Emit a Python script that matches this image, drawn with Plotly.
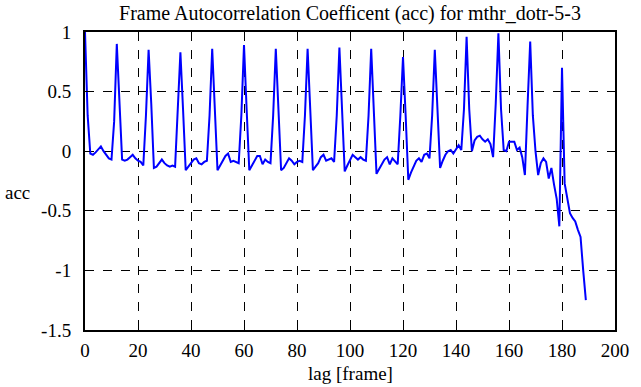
import plotly.graph_objects as go

lags = list(range(0, 190))
acc = [
    1.0, 0.3, -0.02, -0.03, -0.01, 0.02, 0.04, 0.0, -0.03, -0.06,   # 0-9
    -0.07, 0.25, 0.9, 0.4, -0.07, -0.08, -0.07, -0.05, -0.03, -0.06,  # 10-19
    -0.08, -0.09, -0.12, 0.3, 0.85, 0.4, -0.14, -0.13, -0.1, -0.07,   # 20-29
    -0.1, -0.12, -0.13, -0.12, -0.13, 0.3, 0.83, 0.35, -0.16, -0.13,  # 30-39
    -0.1, -0.07, -0.06, -0.1, -0.11, -0.09, -0.08, 0.3, 0.86, 0.35,   # 40-49
    -0.16, -0.12, -0.08, -0.04, -0.02, -0.09, -0.08, -0.09, -0.1, 0.3,  # 50-59
    0.89, 0.35, -0.16, -0.12, -0.08, -0.04, -0.04, -0.11, -0.07, -0.09,  # 60-69
    -0.1, 0.3, 0.86, 0.35, -0.16, -0.14, -0.1, -0.06, -0.08, -0.11,   # 70-79
    -0.09, -0.08, -0.09, 0.3, 0.86, 0.35, -0.16, -0.13, -0.1, -0.05,  # 80-89
    -0.03, -0.08, -0.07, -0.06, -0.09, 0.3, 0.87, 0.35, -0.17, -0.12,  # 90-99
    -0.07, -0.03, -0.05, -0.07, -0.05, -0.07, -0.08, 0.3, 0.86, 0.35,  # 100-109
    -0.19, -0.15, -0.11, -0.07, -0.05, -0.11, -0.06, -0.09, -0.11, 0.3,  # 110-119
    0.79, 0.3, -0.24, -0.18, -0.13, -0.08, -0.06, -0.09, -0.03, -0.02,  # 120-129
    -0.06, 0.3, 0.85, 0.3, -0.14, -0.08, -0.03, 0.0, 0.01, -0.02,     # 130-139
    0.02, 0.05, 0.01, 0.35, 0.96, 0.35, 0.0, 0.09, 0.12, 0.13,        # 140-149
    0.1, 0.08, 0.1, 0.06, -0.05, 0.4, 0.99, 0.35, 0.01, 0.0,          # 150-159
    0.08, 0.08, 0.08, 0.01, 0.03, -0.05, -0.2, 0.38, 0.92, 0.3,       # 160-169
    0.0, -0.2, -0.1, -0.06, -0.09, -0.23, -0.14, -0.28, -0.4, -0.63,  # 170-179
    0.7, -0.27, -0.41, -0.52, -0.56, -0.59, -0.66, -0.72, -1.0, -1.25,  # 180-189
]

x_ticks = [0, 20, 40, 60, 80, 100, 120, 140, 160, 180, 200]
y_ticks = [-1.5, -1, -0.5, 0, 0.5, 1]
y_tick_text = ["-1.5", "-1", "-0.5", "0", "0.5", "1"]

title_text = "Frame Autocorrelation Coefficent (acc) for mthr_dotr-5-3"
font_family = "'Liberation Serif', 'DejaVu Serif', 'Times New Roman', serif"
FS = 19

fig = go.Figure()
fig.add_trace(go.Scatter(
    x=lags, y=acc, mode="lines",
    line=dict(color="#0000ff", width=2),
    showlegend=False,
))

axis_common = dict(
    showline=True, linecolor="black", linewidth=2, mirror="allticks",
    ticks="inside", ticklen=5, tickwidth=1, tickcolor="black",
    showgrid=True, gridcolor="black", griddash="dash", gridwidth=1,
    zeroline=False,
    tickfont=dict(family=font_family, size=FS, color="black"),
)

fig.update_xaxes(range=[0, 200], tickvals=x_ticks, ticklabelstandoff=2, **axis_common)
fig.update_yaxes(range=[-1.5, 1], tickvals=y_ticks, ticktext=y_tick_text,
                 ticklabelstandoff=8, **axis_common)

fig.update_layout(
    width=641, height=387,
    margin=dict(l=85, r=26, t=32, b=57, autoexpand=False),
    paper_bgcolor="white", plot_bgcolor="white",
    font=dict(family=font_family, size=FS, color="black"),
    title=dict(text=title_text, x=0.546, xanchor="center",
               yref="container", y=0.967, yanchor="middle",
               pad=dict(t=0, b=0),
               font=dict(family=font_family, size=20, color="black")),
    annotations=[
        dict(text="lag [frame]", xref="paper", yref="paper", x=0.5, y=-0.105,
             xanchor="center", yanchor="top", showarrow=False,
             font=dict(family=font_family, size=FS, color="black")),
        dict(text="acc", xref="paper", yref="paper", x=-0.1, y=0.46,
             xanchor="right", yanchor="middle", showarrow=False,
             font=dict(family=font_family, size=FS, color="black")),
    ],
)

# remove the default 8px page margin so the figure fills the window exactly
fig.write_html("out.html", config={"displayModeBar": False},
               post_script="document.body.style.margin='0';")
